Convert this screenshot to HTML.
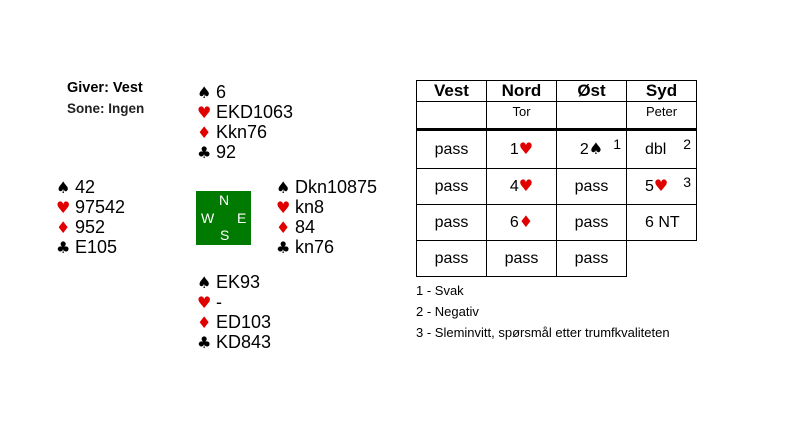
<!DOCTYPE html>
<html><head><meta charset="utf-8"><style>
body{margin:0;width:802px;height:432px;background:#fff;position:relative;font-family:"Liberation Sans",sans-serif;overflow:hidden}
.a{position:absolute;white-space:nowrap}
.h{font-size:18px;line-height:20px;color:#000}
.h div{height:20px;line-height:20px;overflow:visible}
.r{color:#e00000}
.s{display:inline-block;width:19px;font-family:"DejaVu Sans",sans-serif;font-size:16px;line-height:16px}
.t{font-family:"DejaVu Sans",sans-serif;font-size:16px;line-height:16px}
.cell{position:absolute;font-size:16px;text-align:center;border:1px solid #000;box-sizing:border-box}
.sup{position:absolute;font-size:14px;line-height:14px;top:6px;right:5px}
</style></head><body>
<div class="a" style="left:67px;top:80px;font-size:14.5px;font-weight:bold">Giver: Vest</div>
<div class="a" style="left:67px;top:101px;font-size:13.5px;font-weight:bold;color:#222">Sone: Ingen</div>

<div class="a h" style="left:197px;top:82px"><div><span class="s">♠</span>6</div><div><span class="s r">♥</span>EKD1063</div><div><span class="s r">♦</span>Kkn76</div><div><span class="s">♣</span>92</div></div>
<div class="a h" style="left:56px;top:177px"><div><span class="s">♠</span>42</div><div><span class="s r">♥</span>97542</div><div><span class="s r">♦</span>952</div><div><span class="s">♣</span>E105</div></div>
<div class="a h" style="left:276px;top:177px"><div><span class="s">♠</span>Dkn10875</div><div><span class="s r">♥</span>kn8</div><div><span class="s r">♦</span>84</div><div><span class="s">♣</span>kn76</div></div>
<div class="a h" style="left:197px;top:272px"><div><span class="s">♠</span>EK93</div><div><span class="s r">♥</span>-</div><div><span class="s r">♦</span>ED103</div><div><span class="s">♣</span>KD843</div></div>

<div class="a" style="left:196px;top:191px;width:55px;height:54px;background:#007a00;color:#fff;font-size:14px">
<span class="a" style="left:23px;top:1px">N</span><span class="a" style="left:5px;top:19px">W</span><span class="a" style="left:41px;top:19px">E</span><span class="a" style="left:24px;top:36px">S</span></div>

<div class="a" style="left:416px;top:80px;width:281px;height:197px">
<div class="cell" style="left:0;top:0;width:71px;height:22px;font-weight:bold;font-size:17px;line-height:20px">Vest</div>
<div class="cell" style="left:70px;top:0;width:71px;height:22px;font-weight:bold;font-size:17px;line-height:20px">Nord</div>
<div class="cell" style="left:140px;top:0;width:71px;height:22px;font-weight:bold;font-size:17px;line-height:20px">Øst</div>
<div class="cell" style="left:210px;top:0;width:71px;height:22px;font-weight:bold;font-size:17px;line-height:20px">Syd</div>
<div class="cell" style="left:0;top:21px;width:71px;height:28px"></div>
<div class="cell" style="left:70px;top:21px;width:71px;height:28px;font-size:13px;line-height:20px">Tor</div>
<div class="cell" style="left:140px;top:21px;width:71px;height:28px"></div>
<div class="cell" style="left:210px;top:21px;width:71px;height:28px;font-size:13px;line-height:20px">Peter</div>
<div class="a" style="left:0;top:48px;width:281px;height:3px;background:#000"></div>

<div class="cell" style="left:0;top:50px;width:71px;height:39px;line-height:38px">pass</div>
<div class="cell" style="left:70px;top:50px;width:71px;height:39px;line-height:38px">1<span class="t r">♥</span></div>
<div class="cell" style="left:140px;top:50px;width:71px;height:39px;line-height:38px">2<span class="t">♠</span><span class="sup">1</span></div>
<div class="cell" style="left:210px;top:50px;width:71px;height:39px;line-height:38px;text-align:left;padding-left:18px">dbl<span class="sup">2</span></div>

<div class="cell" style="left:0;top:88px;width:71px;height:37px;line-height:36px">pass</div>
<div class="cell" style="left:70px;top:88px;width:71px;height:37px;line-height:36px">4<span class="t r">♥</span></div>
<div class="cell" style="left:140px;top:88px;width:71px;height:37px;line-height:36px">pass</div>
<div class="cell" style="left:210px;top:88px;width:71px;height:37px;line-height:36px;text-align:left;padding-left:18px">5<span class="t r">♥</span><span class="sup">3</span></div>

<div class="cell" style="left:0;top:124px;width:71px;height:37px;line-height:36px">pass</div>
<div class="cell" style="left:70px;top:124px;width:71px;height:37px;line-height:36px">6<span class="t r">♦</span></div>
<div class="cell" style="left:140px;top:124px;width:71px;height:37px;line-height:36px">pass</div>
<div class="cell" style="left:210px;top:124px;width:71px;height:37px;line-height:36px;text-align:left;padding-left:18px">6 NT</div>

<div class="cell" style="left:0;top:160px;width:71px;height:37px;line-height:36px">pass</div>
<div class="cell" style="left:70px;top:160px;width:71px;height:37px;line-height:36px">pass</div>
<div class="cell" style="left:140px;top:160px;width:71px;height:37px;line-height:36px">pass</div>
</div>

<div class="a" style="left:416px;top:280px;font-size:13px;line-height:21px">1 - Svak<br>2 - Negativ<br>3 - Sleminvitt, spørsmål etter trumfkvaliteten</div>
</body></html>
